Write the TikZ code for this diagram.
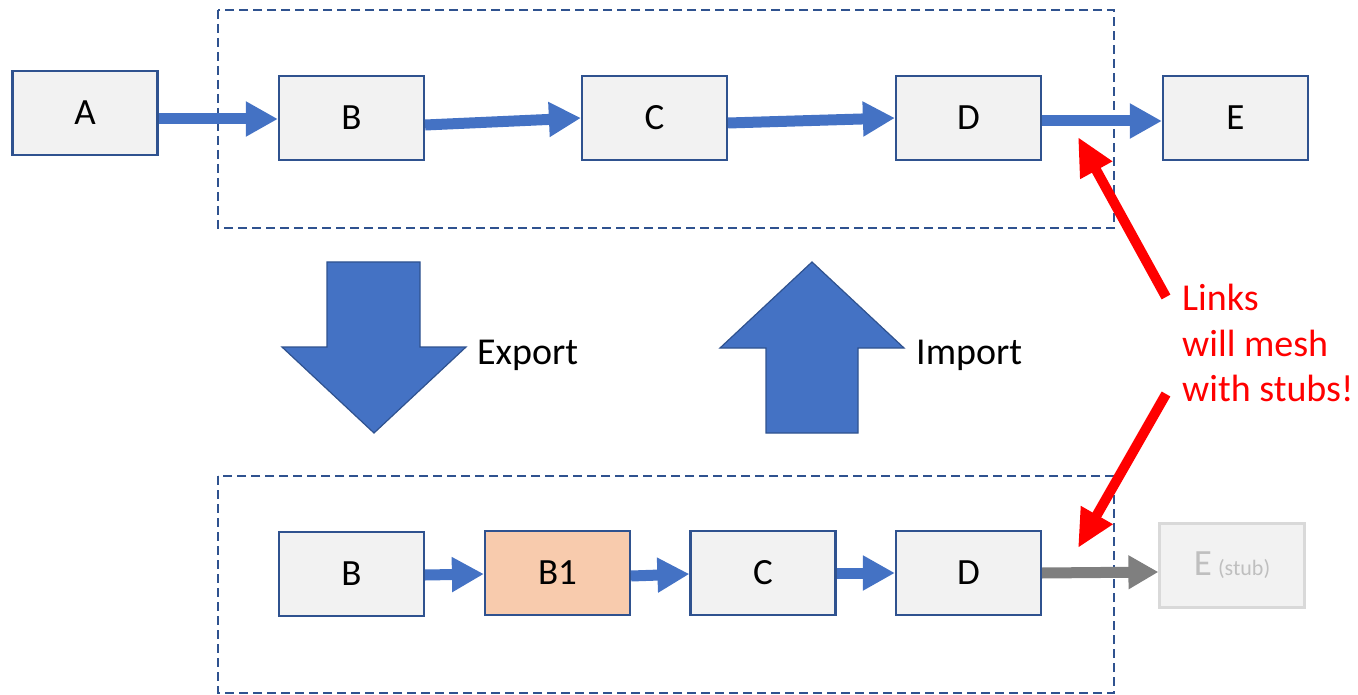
\documentclass[tikz,border=0pt]{standalone}
\usepackage{fontspec}
\setmainfont{Carlito}
\usetikzlibrary{arrows.meta}
\definecolor{boxblue}{HTML}{2F528F}
\definecolor{boxgray}{HTML}{F2F2F2}
\definecolor{arrblue}{HTML}{4472C4}
\definecolor{peach}{HTML}{F8CBAD}
\definecolor{stubgray}{HTML}{D9D9D9}
\definecolor{stubtext}{HTML}{BFBFBF}
\definecolor{linkgray}{HTML}{7F7F7F}
\definecolor{redc}{HTML}{FF0000}
\begin{document}
\begin{tikzpicture}[x=1pt,y=-1pt,
  box/.style={draw=boxblue, line width=2.2pt, fill=boxgray, minimum width=145pt, minimum height=84pt, inner sep=0pt, font=\fontsize{37}{44}\selectfont},
  stubbox/.style={draw=stubgray, line width=2.2pt, fill=boxgray, minimum width=145pt, minimum height=84pt, inner sep=0pt, text=stubtext, font=\fontsize{37}{44}\selectfont},
  group/.style={draw=boxblue, line width=1.8pt, dash pattern=on 9pt off 5pt},
  flow/.style={draw=arrblue, line width=11pt, -{Triangle[length=32pt,width=33pt]}},
  stubflow/.style={draw=linkgray, line width=11pt, -{Triangle[length=30pt,width=32pt]}},
  redarrow/.style={draw=redc, line width=10pt, -{Triangle[length=38pt,width=34pt]}},
  bigarrow/.style={fill=arrblue, draw=boxblue, line width=1.2pt},
  lbl/.style={font=\fontsize{38}{46}\selectfont, inner sep=0pt, anchor=west},
]
\useasboundingbox (0,0) rectangle (1358,695);
% group boxes
\draw[group] (218,10) rectangle (1114,228);
\draw[group] (218,476) rectangle (1114,693);
% top row
\node[box] (A) at (85,113) {A};
\node[box] (B) at (351.5,118) {B};
\node[box] (C) at (654.5,118) {C};
\node[box] (D) at (968.5,118) {D};
\node[box] (E) at (1235.5,118) {E};
\draw[flow] ([yshift=-6pt]A.east) -- ([yshift=-1pt]B.west);
\draw[flow] ([yshift=-7pt]B.east) -- (C.west);
\draw[flow] ([yshift=-5pt]C.east) -- (D.west);
\draw[flow] ([yshift=-3pt]D.east) -- ([yshift=-3pt]E.west);
% bottom row
\node[box] (B2) at (351.5,574) {B};
\node[box, fill=peach] (B1) at (557.5,573) {B1};
\node[box] (C2) at (763,573) {C};
\node[box] (D2) at (968.5,573) {D};
\node[stubbox] (E2) at (1232,565.5) {E\,{\fontsize{22}{26}\selectfont (stub)}};
\draw[flow] ([yshift=-1pt]B2.east) -- ([yshift=-1pt]B1.west);
\draw[flow] ([yshift=-3pt]B1.east) -- ([yshift=-1pt]C2.west);
\draw[flow] (C2.east) -- (D2.west);
\draw[stubflow] (D2.east) -- ([yshift=-6.5pt]E2.west);
% export / import
\draw[bigarrow] (327,262) -- (420,262) -- (420,347) -- (466,347) -- (374,433) -- (282,347) -- (327,347) -- cycle;
\node[lbl] (export) at (477,355) {Export};
\draw[bigarrow] (812,262) -- (904,348) -- (858,348) -- (858,433) -- (766,433) -- (766,348) -- (720,348) -- cycle;
\node[lbl] (import) at (916,355) {Import};
% red note
\node[lbl, text=redc, align=left, font=\fontsize{38}{45.5}\selectfont] (note) at (1182,343) {Links\\will mesh\\with stubs!};
\coordinate (t1) at (1166,297);
\coordinate (h1) at (1078,137);
\coordinate (t2) at (1166,394);
\coordinate (h2) at (1078,548);
\draw[redarrow] (t1) -- (h1);
\draw[redarrow] (t2) -- (h2);
\end{tikzpicture}
\end{document}
